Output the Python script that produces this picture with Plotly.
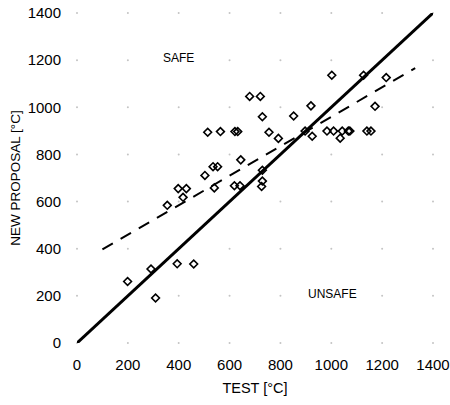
import plotly.graph_objects as go

# Measured points (TEST, NEW PROPOSAL) in °C
test_x = [199, 309, 291, 394, 459, 355, 417, 398, 430, 503, 540, 619, 641, 535, 553,
          644, 514, 564, 621, 632, 679, 721, 729, 852, 755, 792, 897, 925, 920, 729,
          729, 726, 1002, 1127, 1216, 1172, 983, 1009, 1043, 1035, 1067, 1073, 1140, 1156]
proposal_y = [261, 191, 314, 336, 335, 584, 618, 655, 655, 711, 658, 667, 667, 748, 748,
              777, 894, 897, 897, 897, 1046, 1046, 960, 963, 894, 868, 899, 877, 1006, 733,
              687, 664, 1136, 1136, 1126, 1004, 899, 899, 899, 869, 899, 899, 899, 899]

# Dashed trend curve
trend_x = [100, 400, 700, 1000, 1330]
trend_y = [397, 585, 772, 960, 1166]

# Equality line
eq_x = [0, 1400]
eq_y = [0, 1400]

tick_vals = [0, 200, 400, 600, 800, 1000, 1200, 1400]

font_family = "Liberation Sans, Arial, sans-serif"

fig = go.Figure()

# grid dots at tick intersections
gx = [a for a in tick_vals for b in tick_vals]
gy = [b for a in tick_vals for b in tick_vals]
fig.add_trace(go.Scatter(x=gx, y=gy, mode="markers",
                         marker=dict(size=2, color="#c4c4c4"),
                         hoverinfo="skip", showlegend=False, cliponaxis=False))

fig.add_trace(go.Scatter(x=eq_x, y=eq_y, mode="lines",
                         line=dict(color="black", width=3), showlegend=False,
                         cliponaxis=False))
fig.add_trace(go.Scatter(x=trend_x, y=trend_y, mode="lines",
                         line=dict(color="black", width=2, dash="12px,9px"),
                         showlegend=False))
fig.add_trace(go.Scatter(x=test_x, y=proposal_y, mode="markers",
                         marker=dict(symbol="diamond-open", size=6, color="black",
                                     line=dict(width=1.6, color="black")),
                         showlegend=False))

fig.add_annotation(x=401, y=1210, text="SAFE", showarrow=False,
                   font=dict(size=12, color="black", family=font_family))
fig.add_annotation(x=1003, y=209, text="UNSAFE", showarrow=False,
                   font=dict(size=12, color="black", family=font_family))

axis_common = dict(range=[0, 1400], tickvals=tick_vals, showgrid=False,
                   zeroline=False, showline=False, ticks="outside",
                   tickcolor="rgba(0,0,0,0)", automargin=False,
                   ticklabeloverflow="allow",
                   tickfont=dict(size=15, color="black", family=font_family))

fig.update_xaxes(**axis_common, ticklen=8,
                 title=dict(text="TEST [°C]", font=dict(size=14.5, color="black", family=font_family),
                            standoff=10))
fig.update_yaxes(**axis_common, ticklen=12,
                 title=dict(text="NEW PROPOSAL [°C]", font=dict(size=13.5, color="black", family=font_family),
                            standoff=3))

fig.update_layout(width=450, height=405,
                  margin=dict(l=77, r=17, t=13, b=62),
                  plot_bgcolor="white", paper_bgcolor="white")

fig.write_html("out.html", config={"displayModeBar": False},
               post_script="document.body.style.margin='0';")
